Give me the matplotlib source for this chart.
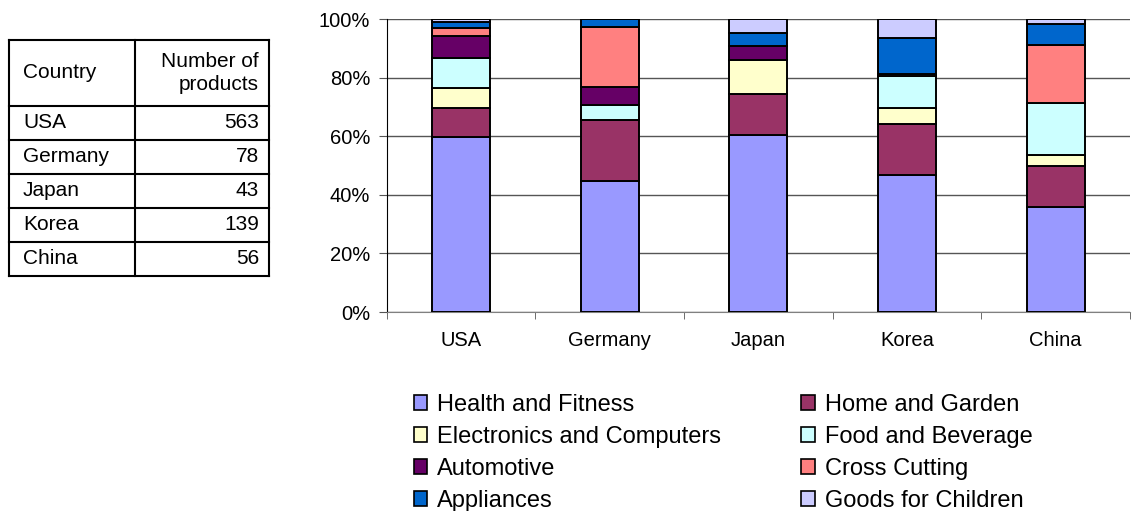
import numpy as np
import matplotlib.pyplot as plt
from matplotlib.patches import Patch

plt.rcParams['font.family'] = ['Liberation Sans', 'DejaVu Sans']

countries = ['USA', 'Germany', 'Japan', 'Korea', 'China']
n_products = [563, 78, 43, 139, 56]

categories = ['Health and Fitness', 'Home and Garden', 'Electronics and Computers',
              'Food and Beverage', 'Automotive', 'Cross Cutting', 'Appliances',
              'Goods for Children']
colors = ['#9999FF', '#993366', '#FFFFCC', '#CCFFFF', '#660066', '#FF8080',
          '#0066CC', '#CCCCFF']

# number of products per category
counts = {
    'USA':     [337, 55, 39, 57, 43, 14, 12, 6],
    'Germany': [35, 16, 0, 4, 5, 16, 2, 0],
    'Japan':   [26, 6, 5, 0, 2, 0, 2, 2],
    'Korea':   [65, 24, 8, 15, 0, 1, 17, 9],
    'China':   [20, 8, 2, 10, 0, 11, 4, 1],
}

W, H = 1133, 511
fig = plt.figure(figsize=(W / 100, H / 100), dpi=100)

def rect(x0, y0, x1, y1):
    # pixel box (top-left origin) -> figure fraction
    return [x0 / W, 1 - y1 / H, (x1 - x0) / W, (y1 - y0) / H]

ax = fig.add_axes(rect(386.7, 19, 1130, 312))

x = np.arange(len(countries))
pct = np.array([counts[c] for c in countries], dtype=float)
pct = pct / pct.sum(axis=1, keepdims=True) * 100
bottom = np.zeros(len(countries))
for i, cat in enumerate(categories):
    ax.bar(x, pct[:, i], 0.39, bottom=bottom, color=colors[i], edgecolor='black',
           linewidth=1.4, label=cat, zorder=3)
    bottom += pct[:, i]

ax.set_xlim(-0.5, len(countries) - 0.5)
ax.set_ylim(0, 100)
ax.set_yticks(np.arange(0, 101, 20))
ax.set_yticklabels([f'{v}%' for v in range(0, 101, 20)], fontsize=14.5)
ax.set_xticks(x)
ax.set_xticklabels(countries, fontsize=14.5)
ax.set_xticks(np.arange(len(countries) + 1) - 0.5, minor=True)
ax.tick_params(axis='x', which='major', length=0, pad=14)
ax.tick_params(axis='x', which='minor', length=5, color='#555555', direction='out')
ax.tick_params(axis='y', length=6, color='#555555', pad=6)
ax.grid(axis='y', color='#555555', linewidth=1, zorder=0)
for s in ['top', 'right']:
    ax.spines[s].set_visible(False)
ax.spines['left'].set_color('black')
ax.spines['bottom'].set_color('#808080')

# legend, two columns
handles = [Patch(facecolor=colors[i], edgecolor='black', linewidth=1.2) for i in range(8)]
order = [0, 2, 4, 6, 1, 3, 5, 7]
leg = fig.legend([handles[i] for i in order], [categories[i] for i in order],
                 ncol=2, loc='upper left', bbox_to_anchor=(414 / W, 1 - 394 / H),
                 frameon=False, fontsize=17, handlelength=0.56, handleheight=0.56,
                 handletextpad=0.42, labelspacing=0.42, columnspacing=3.4,
                 borderpad=0, borderaxespad=0)

# table on the left
tx = fig.add_axes(rect(9, 40, 269, 276))
tx.set_xlim(9, 269)
tx.set_ylim(276, 40)
tx.axis('off')
row_h = 34
head_b = 106
lines_y = [40, head_b] + [head_b + row_h * (k + 1) for k in range(len(countries))]
for yy in lines_y:
    tx.plot([9, 269], [yy, yy], color='black', lw=1.5, clip_on=False)
for xx in [9, 135, 269]:
    tx.plot([xx, xx], [40, 276], color='black', lw=1.5, clip_on=False)
tx.text(23, (40 + head_b) / 2, 'Country', fontsize=15, va='center', ha='left')
tx.text(259, (40 + head_b) / 2, 'Number of\nproducts', fontsize=15, va='center',
        ha='right', linespacing=1.3)
for k, (c, n) in enumerate(zip(countries, n_products)):
    yc = head_b + row_h * (k + 0.5)
    tx.text(23, yc, c, fontsize=15, va='center', ha='left')
    tx.text(259, yc, str(n), fontsize=15, va='center', ha='right')

fig.savefig('out.png', dpi=100)
